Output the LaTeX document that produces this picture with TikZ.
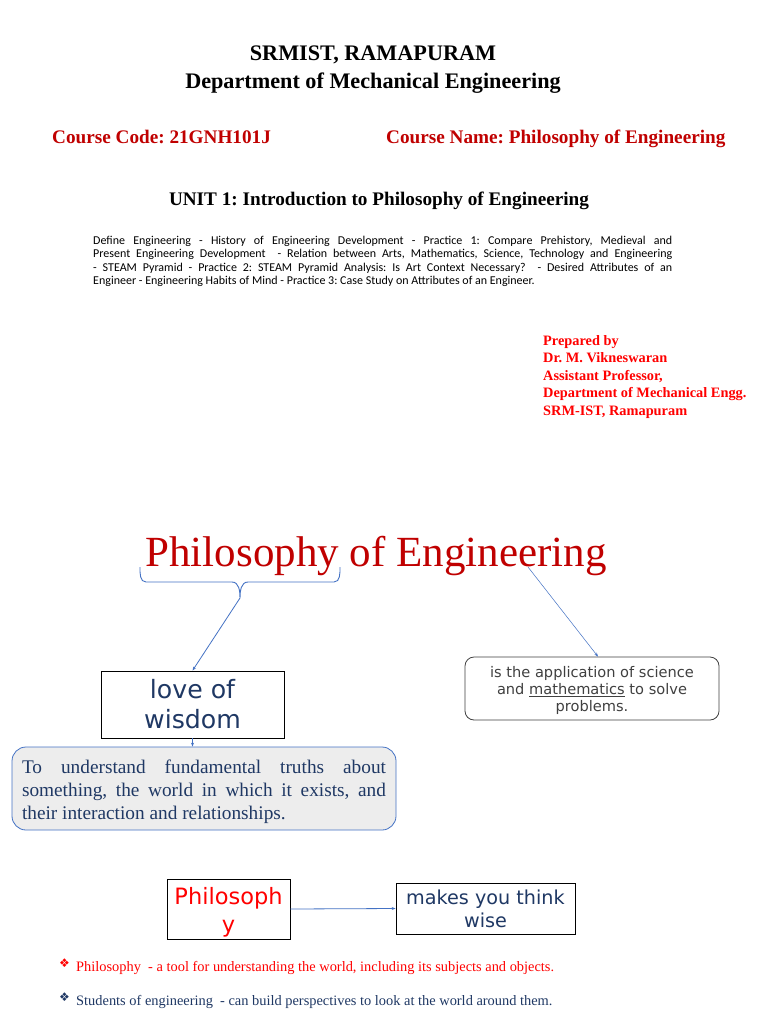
\documentclass[tikz,border=0pt]{standalone}
\usepackage{fontspec}
\setmainfont{Liberation Serif}
\newfontfamily\carl{Carlito}
\newfontfamily\dvs{DejaVu Sans}
\usetikzlibrary{arrows.meta}
\frenchspacing
\definecolor{darkred}{HTML}{C00000}
\definecolor{brightred}{HTML}{FF0000}
\definecolor{navy}{HTML}{1F3864}
\definecolor{bblue}{HTML}{4472C4}
\definecolor{graytxt}{HTML}{404040}
\definecolor{boxgray}{HTML}{EDEDED}
\tikzset{
  hd/.style={font=\fontsize{22.2}{26}\selectfont\bfseries, inner sep=0pt, anchor=base},
  cc/.style={font=\fontsize{19.2}{22}\selectfont\bfseries, text=darkred, inner sep=0pt, anchor=base west},
  sqbox/.style={draw=black, line width=0.8pt, inner sep=0pt, align=center},
  conn/.style={draw=bblue, line width=0.8pt, -{Stealth[length=4pt,width=3pt]}},
  thinconn/.style={draw=bblue, line width=0.5pt, -{Stealth[length=4pt,width=3pt]}},
}
\begin{document}
\begin{tikzpicture}[x=1pt,y=-1pt]
\useasboundingbox (0,0) rectangle (768,1024);
\fill[white] (0,0) rectangle (768,1024);
% header
\node[hd] (h1) at (373,61) {SRMIST, RAMAPURAM};
\node[hd] (h2) at (373,89) {Department of Mechanical Engineering};
\node[cc] (code) at (52,144) {Course Code: 21GNH101J};
\node[cc] (cname) at (386,144) {Course Name: Philosophy of Engineering};
\node[cc, text=black, anchor=base] (unit) at (379,206) {UNIT 1: Introduction to Philosophy of Engineering};
\node[anchor=north west, inner sep=0pt, text width=579pt, align=justify,
      font=\carl\fontsize{12}{13.3}\selectfont] (syl) at (93,236)
  {Define Engineering - History of Engineering Development - Practice 1: Compare Prehistory, Medieval and\linebreak
   Present Engineering Development \ - Relation between Arts, Mathematics, Science, Technology and Engineering\linebreak
   - STEAM Pyramid - Practice 2: STEAM Pyramid Analysis: Is Art Context Necessary? \ - Desired Attributes of an\linebreak
   Engineer - Engineering Habits of Mind - Practice 3: Case Study on Attributes of an Engineer.};
\node[anchor=north west, inner sep=0pt, align=left, text=brightred,
      font=\fontsize{14.35}{17.5}\selectfont\bfseries] (prep) at (543,335)
  {Prepared by\\Dr. M. Vikneswaran\\Assistant Professor,\\Department of Mechanical Engg.\\SRM-IST, Ramapuram};
% title
\node[inner sep=0pt, text=darkred, font=\fontsize{43}{48}\selectfont] (title) at (376,556) {Philosophy of Engineering};
% brace
\coordinate (tip) at (240,598);
\draw[bblue, line width=0.9pt] (140,567) to[out=-90,in=180] (146,582) -- (232,582)
   to[out=0,in=90] (tip) to[out=90,in=180] (248,582) -- (334,582) to[out=0,in=-90] (340,567);
\coordinate (eng) at (528,567);
% boxes
\node[sqbox, minimum width=183pt, minimum height=67pt, text=navy,
      font=\dvs\fontsize{25.2}{30}\selectfont] (love) at (192.5,704.5) {love of\\wisdom};
\node[draw=bblue, line width=0.8pt, fill=boxgray, rounded corners=14pt,
      minimum width=384pt, minimum height=83pt, inner sep=0pt] (und) at (204,788.5) {};
\node[inner sep=0pt, text width=364pt, align=justify, text=navy,
      font=\fontsize{19.3}{23}\selectfont] (undtxt) at ([yshift=-3pt]und.center)
  {To understand fundamental truths about\linebreak something, the world in which it exists, and\linebreak their interaction and relationships.};
\node[draw=graytxt, line width=0.8pt, rounded corners=9pt, minimum width=254pt, minimum height=63pt,
      inner sep=0pt, align=center, text=graytxt, font=\dvs\fontsize{14.6}{17}\selectfont] (app) at (592,688.5) {};
\node[inner sep=0pt, align=center, text=graytxt, font=\dvs\fontsize{14.6}{17}\selectfont] (apptxt)
  at ([yshift=-2pt]app.center) {is the application of science\\and \underline{mathematics} to solve\\problems.};
\node[sqbox, minimum width=123pt, minimum height=60pt] (phil) at (228.5,909) {};
\node[inner sep=0pt, align=center, text=brightred, font=\dvs\fontsize{22.5}{28}\selectfont] (philtxt)
  at ([yshift=-3pt]phil.center) {Philosoph\\y};
\node[sqbox, minimum width=179pt, minimum height=51pt, text=navy,
      font=\dvs\fontsize{19.2}{23}\selectfont] (wise) at (485.5,908.5) {makes you think\\wise};
% connectors
\draw[conn] (tip) -- (love.north);
\draw[thinconn] (eng) -- ([xshift=6pt]app.north);
\draw[conn] (love.south) -- (love.south |- und.north);
\draw[conn] (phil.east) -- (wise.west);
% bullets
\node[anchor=west, inner sep=0pt, text=brightred, font=\dvs\fontsize{12}{14}\selectfont] (b1) at (59,963) {❖};
\node[anchor=base west, inner sep=0pt, text=brightred, font=\fontsize{14.4}{17}\selectfont] (t1) at (76,971)
  {Philosophy \ - a tool for understanding the world, including its subjects and objects.};
\node[anchor=west, inner sep=0pt, text=navy, font=\dvs\fontsize{12}{14}\selectfont] (b2) at (59,997) {❖};
\node[anchor=base west, inner sep=0pt, text=navy, font=\fontsize{14.4}{17}\selectfont] (t2) at (76,1005)
  {Students of engineering \ - can build perspectives to look at the world around them.};
\end{tikzpicture}
\end{document}
